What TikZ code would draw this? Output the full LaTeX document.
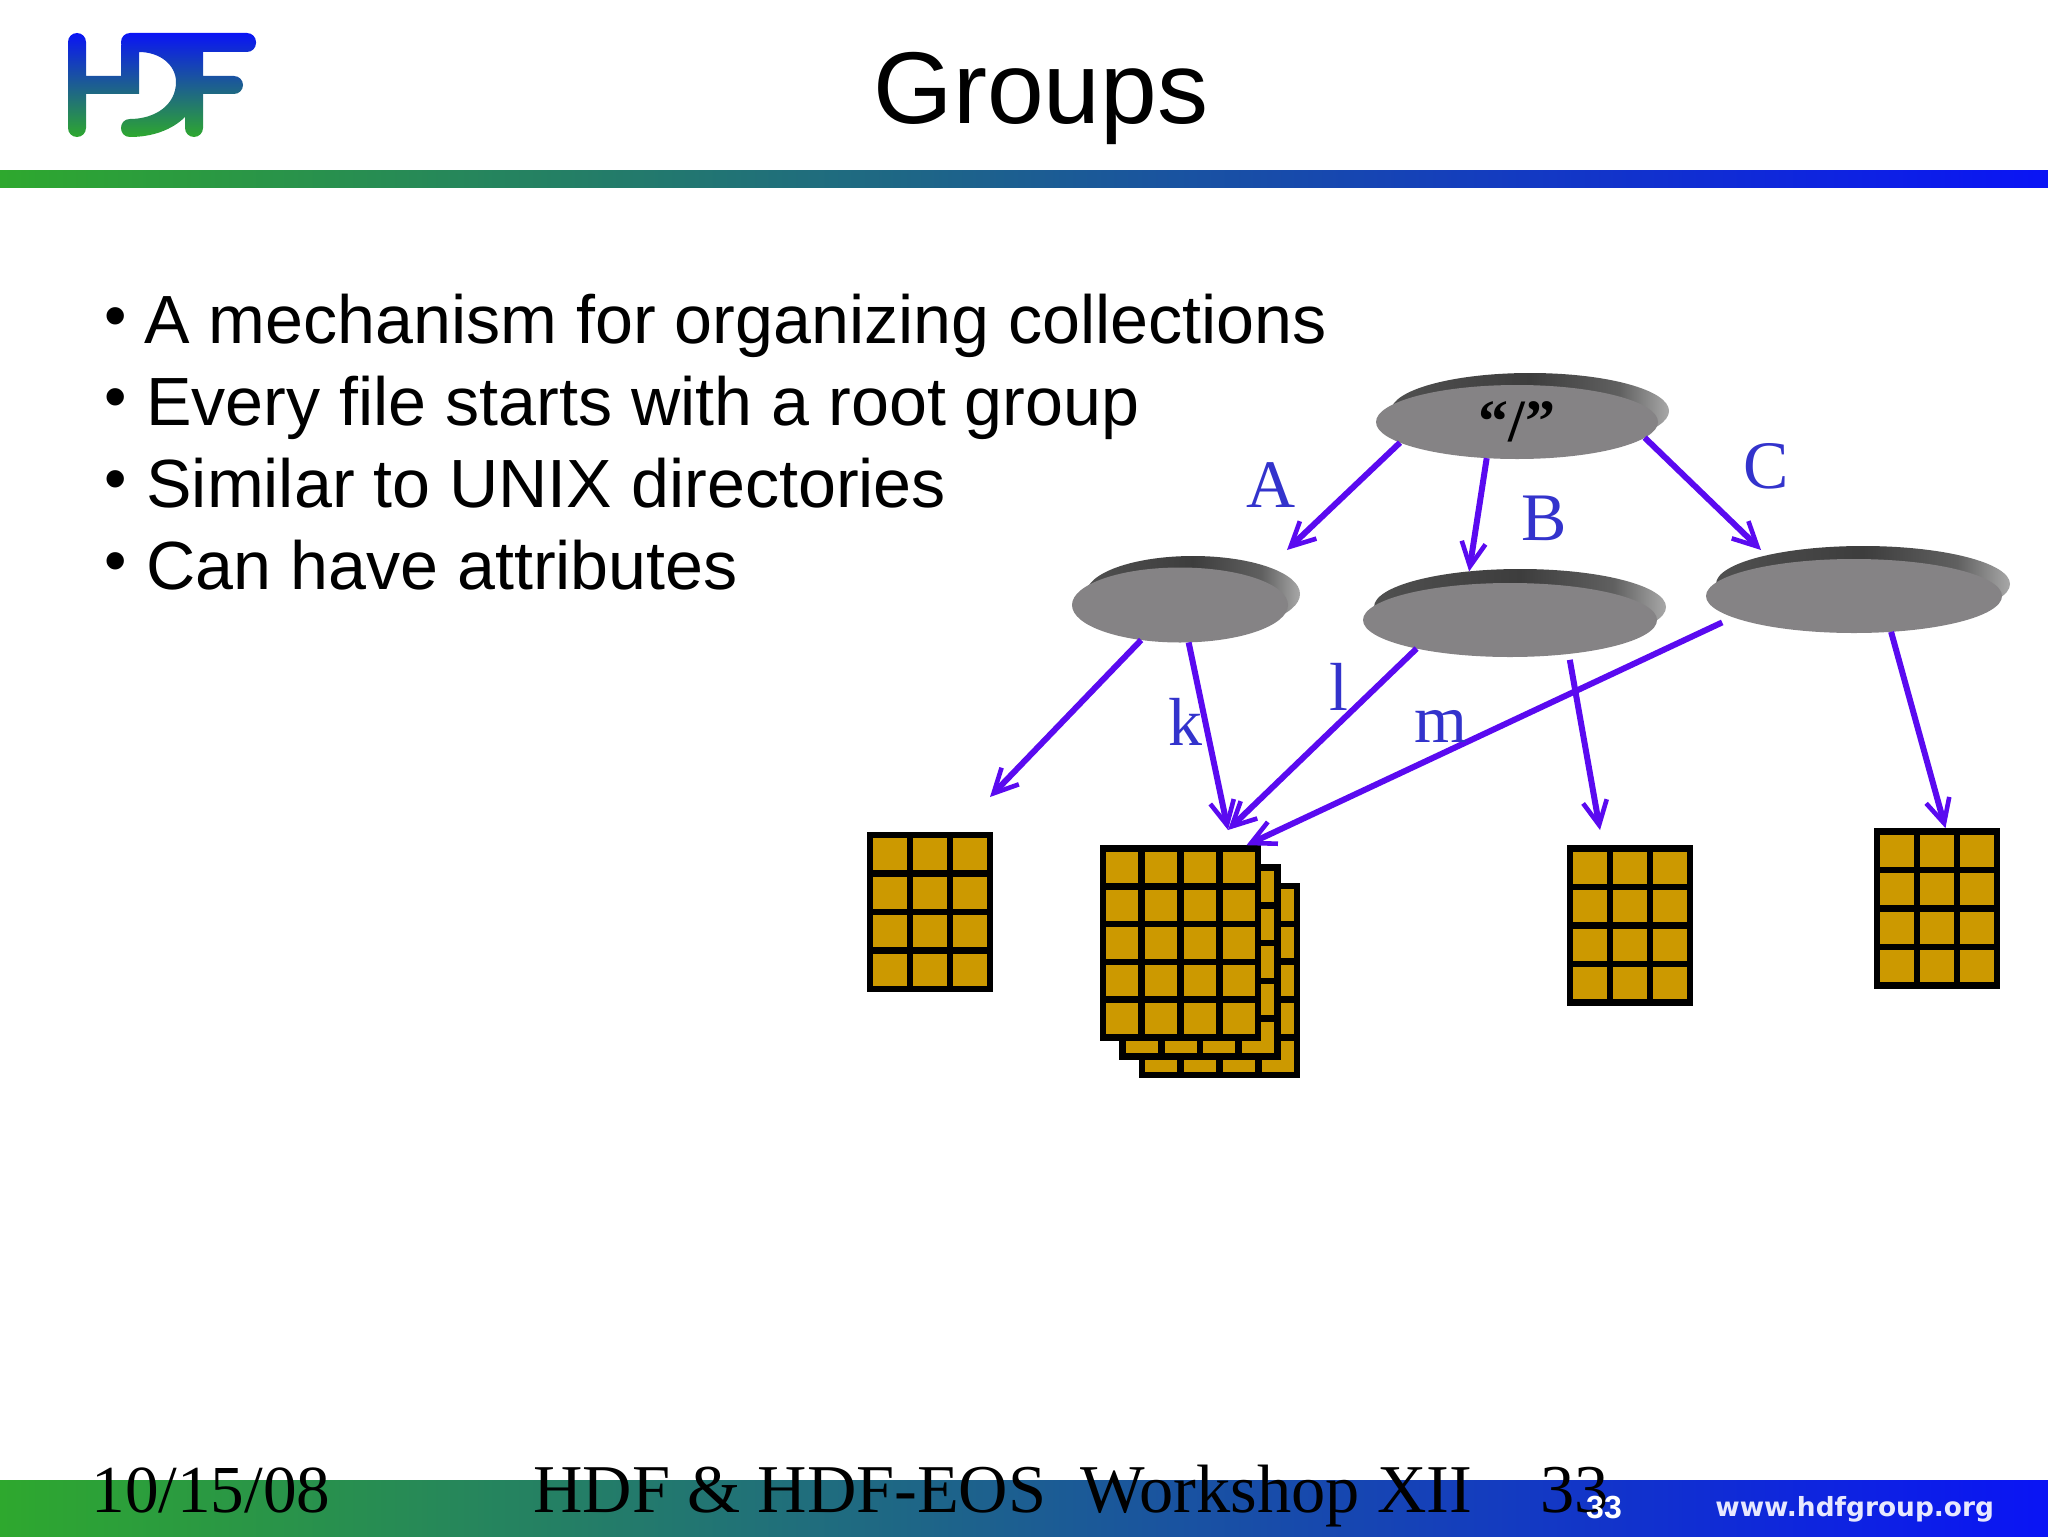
\documentclass[tikz,border=0pt]{standalone}
\usepackage{fontspec}
\setmainfont{Liberation Serif}
\newfontfamily\arialfont{Liberation Sans}
\newfontfamily\dejafont{DejaVu Sans}
\usetikzlibrary{calc,shapes.geometric,arrows.meta}
\definecolor{hdfgreen}{HTML}{2EA82E}
\definecolor{hdfteal}{HTML}{1C6A88}
\definecolor{hdfblue}{HTML}{0A14F5}
\definecolor{linkviolet}{HTML}{5A0AF0}
\definecolor{labelblue}{HTML}{3333CC}
\definecolor{facegrey}{HTML}{858385}
\definecolor{cellgold}{HTML}{CC9900}
\definecolor{backdark}{HTML}{3D3D3D}
\definecolor{backleft}{HTML}{505050}
\definecolor{backmid}{HTML}{606060}
\definecolor{backlight}{HTML}{A8A8A8}
\pgfdeclarehorizontalshading{groupbackshade}{100bp}{color(0bp)=(backleft); color(25bp)=(backleft); color(50bp)=(backdark); color(66bp)=(backmid); color(75bp)=(backlight); color(100bp)=(backlight)}
\tikzset{
  x=0.5pt,y=-0.5pt,
  band/.style={left color=hdfgreen,middle color=hdfteal,right color=hdfblue,draw=none},
  bullet/.style={anchor=base west,font=\arialfont\fontsize{34.1}{34.1}\selectfont,inner sep=0},
  dot/.style={anchor=base west,font=\arialfont\fontsize{32}{32}\selectfont,inner sep=0},
  footer/.style={anchor=base west,font=\fontsize{34.2}{34.2}\selectfont,inner sep=0},
  linklabel/.style={font=\fontsize{34}{34}\selectfont,text=labelblue,inner sep=0},
  groupface/.style={ellipse,fill=facegrey,inner sep=0,outer sep=0},
  groupback/.style={ellipse,shade,shading=groupbackshade,inner sep=0,outer sep=0},
  link/.style={draw=linkviolet,line width=3pt,
    -{Kite[length=0.1pt,width=0.1pt,sep=12pt] Straight Barb[length=12pt,width=12pt,line width=2.3pt,sep=0pt]}},
  gridtable/.style 2 args={rectangle,draw=black,fill=cellgold,line width=3.3pt,inner sep=0,
    path picture={
      \foreach \col in {1,...,#1}
        \draw[line width=3.3pt] ($(path picture bounding box.north west)!\col/#1!(path picture bounding box.north east)$)
          -- ($(path picture bounding box.south west)!\col/#1!(path picture bounding box.south east)$);
      \foreach \row in {1,...,#2}
        \draw[line width=3.3pt] ($(path picture bounding box.north west)!\row/#2!(path picture bounding box.south west)$)
          -- ($(path picture bounding box.north east)!\row/#2!(path picture bounding box.south east)$);
    }},
}
\begin{document}
\begin{tikzpicture}
  \useasboundingbox (0,0) rectangle (2048,1536);
  % header and footer
  \shade[band] (0,170) rectangle (2048,187);
  \shade[band] (0,1480) rectangle (2048,1536);
  \shade[top color=hdfblue,middle color=hdfteal,bottom color=hdfgreen,rounded corners=4.5pt]
    (68,33) rectangle (86,137)
    (121,33) rectangle (256,52)
    (185,33) rectangle (203,137)
    (185,76) rectangle (243,94)
    [sharp corners] (80,76) rectangle (139,94)
    (121,45) rectangle (139,94)
    (139,52) .. controls (160,52) and (176,65) .. (176,82) .. controls (176,105) and (155,119) .. (130,119)
      .. controls (118,119) and (118,137) .. (130,137) .. controls (152,137) and (172,130) .. (185,117) -- (185,52) -- cycle;
  \node (title) [anchor=base,font=\arialfont\fontsize{51}{51}\selectfont,inner sep=0] at (1041,124) {Groups};
  \node (dota) [dot] at (104,337.5) {•};
  \node (dotb) [dot] at (104,418.5) {•};
  \node (dotc) [dot] at (104,500.5) {•};
  \node (dotd) [dot] at (104,582.5) {•};
  \node (linea) [bullet] at (144,343) {A mechanism for organizing collections};
  \node (lineb) [bullet] at (146,425) {Every file starts with a root group};
  \node (linec) [bullet] at (146,507) {Similar to UNIX directories};
  \node (lined) [bullet] at (146,589) {Can have attributes};
  \node (date) [footer,font=\fontsize{33.6}{33.6}\selectfont] at (91,1512) {10/15/08};
  \node (workshop) [footer] at (533,1512) {HDF \& HDF-EOS\ \ Workshop XII\ \ \ \ 33};
  \node (pageno) [anchor=base,text=white,font=\arialfont\bfseries\fontsize{16}{16}\selectfont,inner sep=0] at (1604,1518) {33};
  \node (site) [anchor=base west,text=white!90!hdfblue,font=\dejafont\bfseries\fontsize{13.2}{13.2}\selectfont,inner sep=0] at (1715,1516) {www.hdfgroup.org};
  % datasets
  \node (tableone) [gridtable={3}{4},minimum width=60pt,minimum height=77pt] at (930,912) {};
  \node (stackback) [gridtable={4}{5},minimum width=77.5pt,minimum height=94.5pt] at (1219.5,980.5) {};
  \node (stackmid) [gridtable={4}{5},minimum width=77.5pt,minimum height=94.5pt] at (1200,962) {};
  \node (stackfront) [gridtable={4}{5},minimum width=77.5pt,minimum height=94.5pt] at (1180.5,943) {};
  \node (tablethree) [gridtable={3}{4},minimum width=60pt,minimum height=77pt] at (1630,925.5) {};
  \node (tablefour) [gridtable={3}{4},minimum width=60pt,minimum height=77pt] at (1937,908.5) {};
  % groups
  \node (rootback) [groupback,minimum width=139pt,minimum height=38pt] at (1530,411) {};
  \node (rootface) [groupface,minimum width=141pt,minimum height=37pt,font=\bfseries\fontsize{30}{30}\selectfont] at (1517,422) {\raisebox{-6pt}{“/”}};
  \node (groupaback) [groupback,minimum width=107pt,minimum height=38pt] at (1193,594) {};
  \node (groupa) [groupface,minimum width=108pt,minimum height=37.5pt] at (1180,605) {};
  \node (groupbback) [groupback,minimum width=146pt,minimum height=38pt] at (1520,607) {};
  \node (groupb) [groupface,minimum width=147pt,minimum height=37pt] at (1510,620) {};
  \node (groupcback) [groupback,minimum width=147pt,minimum height=38pt] at (1863,584) {};
  \node (groupc) [groupface,minimum width=148pt,minimum height=37pt] at (1854,596) {};
  % free arrow ends
  \coordinate (tipa) at (1287,550);
  \coordinate (tipc) at (1761,550);
  \coordinate (tipone) at (990,797);
  \coordinate (tipstack) at (1228,830);
  \coordinate (tipthree) at (1600,830);
  \draw[link] (rootface.190) -- (tipa);
  \draw[link] (rootface.230) -- (groupbback.145);
  \draw[link] (rootface.353) -- (tipc);
  \draw[link] (groupa.222) -- (tipone);
  \draw[link] (groupa.283) -- (tipstack);
  \draw[link] (groupb.197) -- (tipstack);
  \draw[link,shorten <=3pt] (groupb.330) -- (tipthree);
  \draw[link,shorten <=6pt] (groupc.190) -- (stackfront.56);
  \draw[link] (groupc.316) -- (tablefour.84);
  % labels
  \node (labela) [linklabel] at (1271,485) {A};
  \node (labelb) [linklabel] at (1544,518) {B};
  \node (labelc) [linklabel] at (1766,466) {C};
  \node (labelk) [linklabel] at (1185,722) {k};
  \node (labell) [linklabel] at (1339,687) {l};
  \node (labelm) [linklabel] at (1441,726) {m};
\end{tikzpicture}
\end{document}
